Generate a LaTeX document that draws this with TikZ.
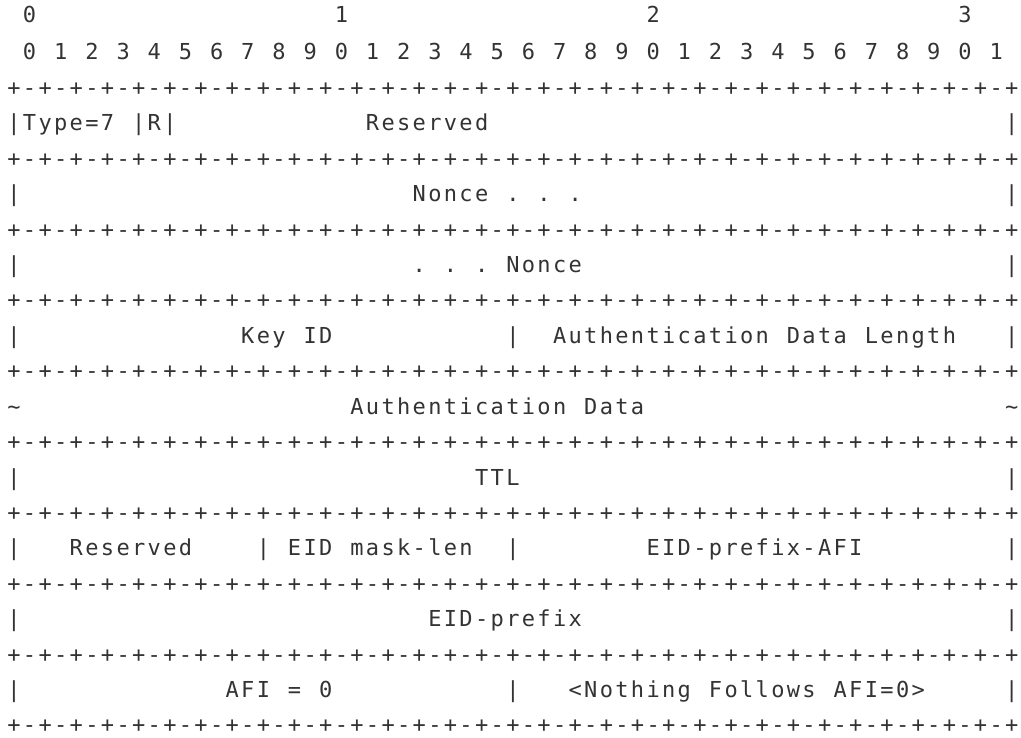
\documentclass[tikz,border=0pt]{standalone}
\usepackage{fontspec}
\newfontfamily\dmono{DejaVu Sans Mono}
\definecolor{textgray}{HTML}{333333}
\newcount\cc
\def\segr{0}
\def\seg#1#2#3{\cc=#1\relax\def\segr{#2}\segloop#3\relax}
\def\segloop#1{\ifx\relax#1\let\next\relax\else\def\curch{#1}\let\next\segstep\fi\next}
\def\segstep{\node[ch,name={r\segr c\the\cc}] at ({6.2+(\the\cc+0.5)*15.59},{-(60+35.42*(\segr-1))}) {\curch};\advance\cc by 1\relax\segloop}
\tikzset{ch/.style={font=\dmono\fontsize{22}{22}\selectfont,inner sep=0pt,outer sep=0pt,anchor=base,text=textgray}}
\def\border#1{%
  \foreach \c in {0,2,...,64}{\node[ch,name={r#1p\c}] at ({6.2+(\c+0.5)*15.59},{-(60+35.42*(#1-1))}) {+};}%
  \foreach \c in {1,3,...,63}{\node[ch,name={r#1m\c}] at ({6.2+(\c+0.5)*15.59},{-(60+35.42*(#1-1))}) {-};}%
}
\begin{document}
\begin{tikzpicture}[x=1pt,y=1pt]
\useasboundingbox (0,0) rectangle (1021,-738);
% header
\seg{1}{-0.0644}{0}\seg{21}{-0.0644}{1}\seg{41}{-0.0644}{2}\seg{61}{-0.0644}{3}
\foreach \i in {0,...,31}{%
  \pgfmathtruncatemacro\d{mod(\i,10)}%
  \node[ch,name={hd\i}] at ({6.2+(2*\i+1.5)*15.59},-60) {\d};}
% borders
\foreach \r in {2,4,...,20}{\border{\r}}
% row 3
\seg{0}{3}{|Type=7}\seg{8}{3}{|R|}\seg{23}{3}{Reserved}\seg{64}{3}{|}
% row 5
\seg{0}{5}{|}\seg{26}{5}{Nonce}\seg{32}{5}{.}\seg{34}{5}{.}\seg{36}{5}{.}\seg{64}{5}{|}
% row 7
\seg{0}{7}{|}\seg{26}{7}{.}\seg{28}{7}{.}\seg{30}{7}{.}\seg{32}{7}{Nonce}\seg{64}{7}{|}
% row 9
\seg{0}{9}{|}\seg{15}{9}{Key}\seg{19}{9}{ID}\seg{32}{9}{|}\seg{35}{9}{Authentication}\seg{50}{9}{Data}\seg{55}{9}{Length}\seg{64}{9}{|}
% row 11
\node[ch,name=tl] at ({6.2+0.5*15.59},{-(60+35.42*10)}) {\char"7E};
\seg{22}{11}{Authentication}\seg{37}{11}{Data}
\node[ch,name=tr] at ({6.2+64.5*15.59},{-(60+35.42*10)}) {\char"7E};
% row 13
\seg{0}{13}{|}\seg{30}{13}{TTL}\seg{64}{13}{|}
% row 15
\seg{0}{15}{|}\seg{4}{15}{Reserved}\seg{16}{15}{|}\seg{18}{15}{EID}\seg{22}{15}{mask-len}\seg{32}{15}{|}\seg{41}{15}{EID-prefix-AFI}\seg{64}{15}{|}
% row 17
\seg{0}{17}{|}\seg{27}{17}{EID-prefix}\seg{64}{17}{|}
% row 19
\seg{0}{19}{|}\seg{14}{19}{AFI}\seg{18}{19}{=}\seg{20}{19}{0}\seg{32}{19}{|}\seg{36}{19}{<Nothing}\seg{45}{19}{Follows}\seg{53}{19}{AFI=0>}\seg{64}{19}{|}
\end{tikzpicture}
\end{document}
